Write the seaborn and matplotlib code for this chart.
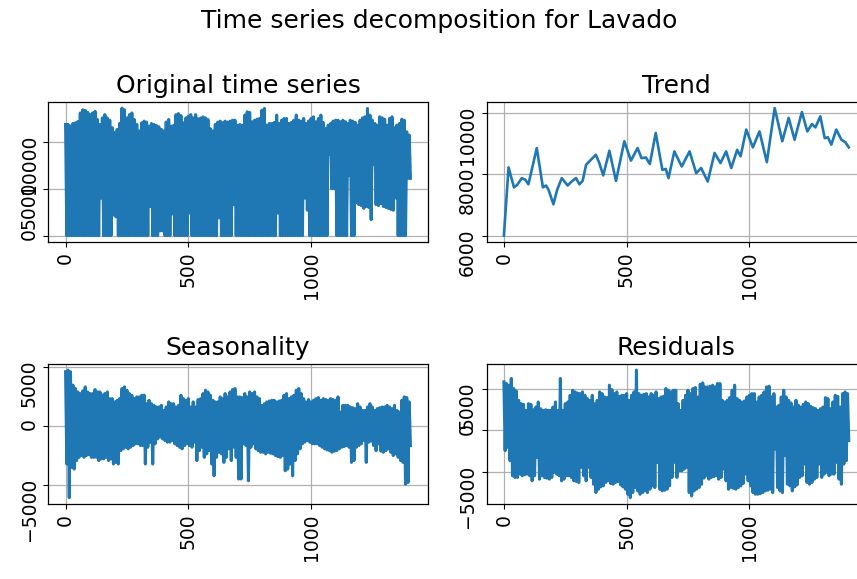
import numpy as np
import pandas as pd
import matplotlib
matplotlib.use("Agg")
import matplotlib.pyplot as plt
import seaborn as sns

# Daily series summarised in 10-day blocks: the peak and the trough of each block.
orig_high = [11850, 11850, 11670, 11950, 12020, 12150, 13070, 13410, 13340, 13140,
             12890, 13070, 13240, 12370, 11850, 12540, 12890, 12540, 12300, 11500,
             10980, 11320, 11950, 13590, 13410, 12540, 12890, 13070, 12370, 11850,
             11150, 12020, 12200, 12100, 11670, 11950, 11850, 11740, 11600, 11320,
             11150, 12100, 12370, 11670, 11740, 12890, 13000, 12790, 12020, 12540,
             12720, 12890, 12540, 12890, 12440, 12540, 12650, 12540, 12370, 11400,
             11150, 11850, 12100, 12200, 12020, 12200, 12100, 12200, 12300, 12300,
             11770, 11840, 11770, 12840, 13190, 13120, 12130, 12300, 12410, 12480,
             13370, 13550, 11770, 11950, 11950, 12060, 12840, 11950, 12300, 12480,
             12480, 11950, 12060, 12300, 12840, 12300, 12200, 12480, 11950, 12200,
             12480, 12660, 12130, 12480, 12840, 12060, 11420, 11770, 11950, 12200,
             12300, 12300, 12130, 12300, 12130, 11950, 12300, 12200, 12060, 11770,
             12300, 12550, 12660, 13550, 12840, 12300, 11950, 11770, 12660, 12550,
             12410, 11770, 12480, 12660, 11490, 11770, 11950, 12410, 12300, 11060,
             10710]
orig_low = [0, 0, 0, 0, 0, 0, 0, 0, 0, 0,
            0, 0, 0, 0, 4000, 0, 0, 0, 0, 2200,
            2000, 0, 0, 0, 0, 0, 0, 0, 0, 0,
            0, 0, 0, 0, 3100, 0, 0, 0, 500, 500,
            0, 0, 0, 2300, 0, 0, 0, 0, 0, 0,
            2400, 0, 0, 0, 0, 0, 0, 0, 0, 0,
            0, 0, 1900, 0, 0, 0, 0, 0, 3300, 0,
            0, 0, 0, 0, 0, 0, 0, 0, 0, 0,
            0, 0, 0, 0, 0, 0, 2400, 0, 0, 0,
            0, 0, 0, 0, 0, 0, 0, 4000, 2700, 0,
            0, 0, 0, 0, 0, 0, 0, 8700, 5000, 5000,
            0, 0, 0, 0, 0, 6400, 0, 0, 3500, 3300,
            3200, 2900, 3100, 3000, 1700, 7600, 3300, 3200, 3400, 3100,
            3000, 2900, 2800, 2700, 4000, 0, 0, 0, 0, 6100,
            6100]

seas_high = [4630, 4770, 4630, 3490, 3200, 2910, 2770, 3000, 3340, 2910,
             2770, 2770, 3110, 2910, 2910, 2630, 2770, 2910, 2340, 2340,
             2060, 2200, 2340, 3200, 3340, 3060, 2770, 2630, 2340, 2490,
             2490, 2630, 2630, 1910, 2200, 1910, 1770, 1630, 1630, 1770,
             1340, 1630, 2060, 1910, 1910, 1630, 1770, 2630, 2340, 2200,
             2340, 1630, 2060, 1630, 2260, 2340, 2770, 3060, 2910, 2630,
             2200, 2060, 2060, 2490, 2340, 2770, 2490, 2910, 3110, 3200,
             2490, 2490, 2430, 2770, 2490, 2910, 2770, 2910, 2490, 2340,
             1770, 1910, 2060, 2140, 2200, 2200, 2060, 2140, 2200, 2630,
             2770, 2340, 2490, 2630, 3060, 3200, 2770, 2340, 2060, 2260,
             2060, 2200, 2340, 2430, 2200, 2340, 2260, 2200, 2340, 2260,
             2200, 2490, 1200, 1770, 1770, 1770, 1630, 1570, 1490, 1910,
             1630, 1340, 1340, 1630, 1910, 1630, 1340, 1490, 1570, 1630,
             1630, 1770, 1630, 1490, 1770, 1340, 1200, 2200, 2490, 2430,
             2060]
seas_low = [-3230, -6090, -3510, -3660, -2940, -2660, -2510, -2660, -2510, -2430,
            -2660, -2660, -2660, -2940, -2800, -2800, -2660, -2940, -2800, -3230,
            -3090, -3230, -2090, -1940, -1800, -1940, -1800, -1660, -1510, -1510,
            -1660, -1660, -3230, -1800, -1370, -3230, -1510, -1090, -940, -1090,
            -1230, -1370, -1370, -1230, -1510, -1660, -1800, -1940, -1660, -1510,
            -1660, -1800, -1370, -2940, -2090, -1800, -2660, -2370, -2090, -3230,
            -4230, -2660, -2230, -2370, -3090, -2660, -1940, -2940, -1800, -2660,
            -4510, -4510, -1510, -1660, -4660, -1800, -1510, -1940, -2090, -2230,
            -2230, -2370, -2230, -2310, -2370, -2510, -2600, -2660, -2510, -3800,
            -3660, -3230, -4230, -2940, -2370, -1940, -1510, -1370, -1230, -1370,
            -1510, -1510, -1510, -1660, -1800, -1940, -2030, -2090, -2230, -2140,
            -2090, -1940, -1800, -1740, -1660, -1800, -3090, -2940, -1800, -1660,
            -1510, -1230, -3090, -1370, -1290, -1660, -2090, -1510, -2140, -2230,
            -2090, -1940, -2230, -2510, -2370, -2660, -2940, -3090, -4940, -4800,
            -1660]

resid_high = [5800, 5600, 5400, 6200, 5000, 4720, 3600, 3200, 3120, 2400,
              3200, 3120, 2480, 2800, 3400, 2600, 2400, 2480, 2400, 2400,
              2800, 3400, 2400, 6200, 2400, 3200, 3400, 4200, 4800, 4600,
              4480, 4400, 4600, 4200, 3800, 3600, 4200, 3200, 3600, 4600,
              4400, 4000, 3920, 5400, 4880, 4400, 4600, 4080, 4200, 4200,
              4400, 3600, 4200, 4600, 7200, 4400, 4200, 4320, 4400, 4000,
              4400, 4200, 4600, 3800, 4000, 4080, 5000, 4800, 4600, 4800,
              4800, 3200, 2400, 3600, 4200, 4800, 4400, 5000, 5120, 4000,
              5520, 5680, 5200, 5200, 5280, 5400, 5200, 5600, 5600, 3600,
              3400, 3600, 3920, 4800, 5400, 3800, 3600, 3400, 3520, 4000,
              4200, 4400, 4400, 3400, 4000, 4200, 4600, 5200, 5280, 4000,
              4400, 2800, 3000, 4000, 4800, 4000, 3600, 3280, 2800, 3600,
              3000, 2800, 3120, 3400, 3200, 2880, 2720, 2600, 2400, 2600,
              2800, 3920, 3800, 2600, 3400, 4200, 4080, 2800, 4400, 4600,
              4400]
resid_low = [-2400, -2000, -3600, -5400, -5600, -5600, -5200, -5400, -5280, -5200,
             -5400, -6000, -5400, -3200, -5800, -5400, -5600, -5680, -5800, -5600,
             -5000, -5200, -5400, -6000, -5800, -5400, -5400, -5600, -6000, -6080,
             -6200, -4400, -5400, -6000, -4400, -5600, -6400, -7400, -7000, -6720,
             -6600, -6200, -6000, -6320, -6400, -6200, -6080, -6480, -6720, -7000,
             -7600, -8000, -7400, -6800, -7200, -7600, -7400, -7200, -7400, -7000,
             -6600, -6800, -3800, -7000, -7200, -7120, -7000, -6600, -5600, -3800,
             -5600, -4800, -4800, -4600, -4400, -7400, -7800, -7200, -7000, -6800,
             -6400, -5680, -5400, -5800, -5600, -5520, -5400, -5800, -5600, -4600,
             -6000, -7000, -6800, -6880, -7000, -6800, -6600, -6320, -5200, -6000,
             -6600, -7400, -7600, -7600, -7520, -7400, -7200, -7120, -7000, -7400,
             -2200, -6800, -7200, -7400, -3000, -6400, -6600, -7200, -6720, -6480,
             -5600, -5400, -4000, -6200, -6400, -6200, -5800, -5600, -4000, -5600,
             -5200, -5000, -5400, -5200, -5200, -3800, -5800, -6400, -4000, -3600,
             -1200]

# Trend component (day, value)
trend_x = [0, 19, 41, 54, 73, 87, 100, 134, 159, 172, 182, 202, 217, 236, 260, 276,
           294, 308, 321, 335, 355, 375, 389, 405, 430, 457, 491, 518, 545, 561, 579,
           595, 619, 646, 660, 671, 695, 725, 757, 784, 804, 831, 859, 883, 906, 927,
           951, 965, 988, 1015, 1042, 1072, 1104, 1135, 1161, 1185, 1215, 1237, 1256,
           1270, 1290, 1308, 1321, 1335, 1355, 1376, 1392, 1406]
trend_y = [6000, 8220, 7570, 7650, 7870, 7820, 7670, 8850, 7570, 7630, 7490, 7020,
           7490, 7870, 7630, 7760, 7870, 7670, 7780, 8300, 8470, 8630, 8360, 7960,
           8760, 7780, 9070, 8440, 8850, 8520, 8540, 8330, 9340, 8140, 8170, 7870,
           8740, 8250, 8740, 8030, 8200, 7760, 8690, 8360, 8740, 8200, 8790, 8580,
           9450, 8870, 9390, 8390, 10150, 9070, 9830, 9120, 10020, 9390, 9630, 9520,
           9880, 9170, 9200, 8960, 9450, 9120, 9040, 8870]

block_start = np.arange(len(orig_high)) * 10  # first day of each 10-day block


def block_frame(high, low):
    """Peak then trough of each block, in day order."""
    day = np.column_stack([block_start, block_start + 5]).ravel()
    value = np.column_stack([high, low]).ravel()
    return pd.DataFrame({"day": day, "value": value})


BLUE = "#1f77b4"
plt.rcParams.update({
    "font.family": "DejaVu Sans",
    "axes.titlesize": 18,
    "xtick.labelsize": 13.5,
    "ytick.labelsize": 13.5,
    "axes.edgecolor": "black",
    "axes.linewidth": 0.9,
    "grid.color": "#b0b0b0",
    "grid.linewidth": 0.9,
})

fig = plt.figure(figsize=(8.57, 5.79), dpi=100)
axes = fig.subplots(2, 2)
fig.subplots_adjust(left=0.0564, right=1.0105, bottom=0.1295, top=0.8244,
                    wspace=0.1555, hspace=0.867)

panels = [
    (axes[0, 0], block_frame(orig_high, orig_low), "Original time series", [0, 5000, 10000]),
    (axes[0, 1], pd.DataFrame({"day": trend_x, "value": trend_y}), "Trend", [6000, 8000, 10000]),
    (axes[1, 0], block_frame(seas_high, seas_low), "Seasonality", [-5000, 0, 5000]),
    (axes[1, 1], block_frame(resid_high, resid_low), "Residuals", [-5000, 0, 5000]),
]

for ax, df, title, yticks in panels:
    sns.lineplot(data=df, x="day", y="value", ax=ax, color=BLUE,
                 linewidth=1.9 if title == "Trend" else 2.2,
                 estimator=None, sort=False)
    ax.set_title(title)
    ax.set_xlabel("")
    ax.set_ylabel("")
    ax.set_xticks([0, 500, 1000])
    ax.set_yticks(yticks)
    ax.grid(True)
    ax.tick_params(axis="both", labelrotation=90)

fig.suptitle("Time series decomposition for Lavado", fontsize=18,
             x=0.512, y=0.985, va="top")

fig.savefig("out.png", dpi=100)
